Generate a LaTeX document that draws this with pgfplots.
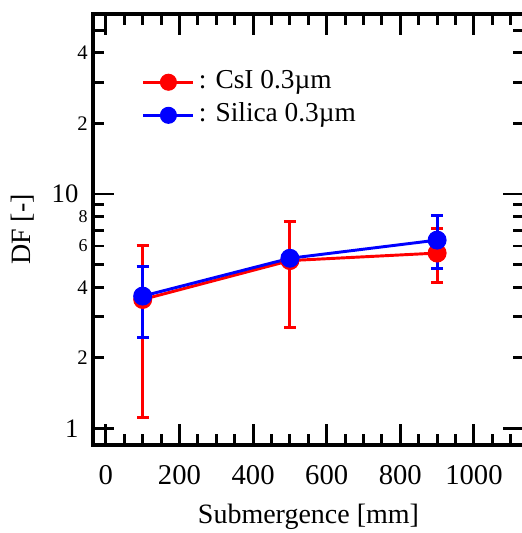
\documentclass[border=0pt]{standalone}
\usepackage{pgfplots}
\pgfplotsset{compat=1.18}
\usepackage{fontspec}
\setmainfont{Liberation Serif}
\newcommand\fs[1]{\fontsize{#1}{#1}\selectfont}
\begin{document}
\begin{tikzpicture}
\begin{axis}[name=ax,
  scale only axis, width=323.25pt, height=323.25pt,
  ymode=log, xmin=-35, xmax=1136, ymin=0.85, ymax=58.6,
  axis line style={line width=2.4pt},
  every tick/.style={black, line width=2.2pt},
  tick align=inside,
  major tick length=15.75pt, minor tick length=8pt,
  xtick={0,200,...,1000},
  minor xtick={50,100,...,1100},
  ytick={1,10},
  yticklabels={{\fs{20}1\kern7pt},{\fs{20}10\kern7pt}},
  extra y ticks={2,4,6,8,20,40},
  extra y tick labels={{\fs{15.5}2},{\fs{15.5}4},{\fs{13.5}6},{\fs{13.5}8},{\fs{15.5}2},{\fs{15.5}4}},
  extra y tick style={major tick length=8pt},
  minor ytick={3,5,7,9,30,50},
  /pgf/number format/assume math mode=true,
  /pgf/number format/1000 sep={},
  xticklabel style={font=\fs{21.5}, inner sep=0pt, yshift=-15.5pt},
  yticklabel style={inner sep=0pt, xshift=-3.75pt},
  xlabel={Submergence [mm]}, ylabel={DF [-]},
  label style={font=\fs{21}},
  xlabel style={at={(axis description cs:0.5,-0.1664)}, anchor=center},
  ylabel style={at={(axis description cs:-0.1624,0.5)}, anchor=center},
  legend image code/.code={\draw[#1, mark=none, line width=2.2pt] (0pt,0pt) -- (37.5pt,0pt);
     \draw[#1, mark size=6pt] plot coordinates {(18.75pt,0pt)};},
  legend style={at={(0.113,0.874)}, anchor=north west, draw=none, fill=none,
     inner sep=0pt, row sep=4.3pt, column sep=2pt, font=\fs{20.5},
     nodes={text height=14pt, text depth=4.5pt, inner sep=1pt}},
  legend cell align=left,
]
\addplot[red, line width=2.2pt, mark=*, mark size=6.7pt, mark options={line width=0.8pt},
  error bars/.cd, y dir=both, y explicit,
  error bar style={line width=2.2pt, red},
  error mark options={rotate=90, line width=2.2pt, mark size=4.5pt, red}]
  table[x=x, y=y, y error plus=ep, y error minus=em] {
  x   y    ep   em
  100 3.55 2.47 2.44
  500 5.20 2.42 2.50
  900 5.60 1.50 1.40
};
\addlegendentry{: CsI 0.3µm}
\addplot[blue, line width=2.2pt, mark=*, mark size=6.7pt, mark options={line width=0.8pt},
  error bars/.cd, y dir=both, y explicit,
  error bar style={line width=2.2pt, blue},
  error mark options={rotate=90, line width=2.2pt, mark size=4.5pt, blue}]
  table[x=x, y=y, y error plus=ep, y error minus=em] {
  x   y    ep   em
  100 3.67 1.23 1.22
  500 5.32 0.25 0.25
  900 6.36 1.72 1.57
};
\addlegendentry{: Silica 0.3µm}
\end{axis}
\pgfresetboundingbox
\path[use as bounding box] ([xshift=-69.75pt,yshift=-66pt]ax.south west) rectangle ([xshift=-1.5pt,yshift=10.5pt]ax.north east);
\end{tikzpicture}
\end{document}
